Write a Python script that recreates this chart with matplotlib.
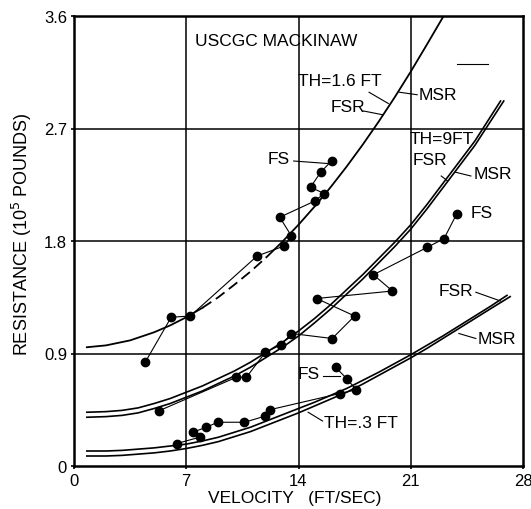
import numpy as np
import matplotlib.pyplot as plt

plt.rcParams["font.family"] = ["Liberation Sans", "DejaVu Sans"]

# TH = 1.6 FT resistance curve (FSR and MSR practically coincide)
th16_x = [0.8, 2, 3.5, 5, 6, 7, 8, 9, 10, 11, 12, 13, 14, 15, 16, 17, 18, 19, 20, 21, 22, 23.05]
th16_y = [0.95, 0.965, 1.005, 1.07, 1.125, 1.19, 1.265, 1.35, 1.45, 1.555, 1.67, 1.795,
          1.93, 2.075, 2.23, 2.395, 2.57, 2.755, 2.95, 3.155, 3.37, 3.60]

# TH = .9 FT curves
th09_fsr_x = [0.8, 2, 3, 4, 5, 6, 7, 8, 9, 10, 11, 12, 13, 14, 15, 16, 17, 18, 19, 20,
              21, 22, 23, 24, 25, 26.6]
th09_fsr_y = [0.43, 0.435, 0.445, 0.465, 0.50, 0.54, 0.59, 0.64, 0.70, 0.76, 0.83, 0.91,
              0.99, 1.08, 1.18, 1.29, 1.41, 1.53, 1.66, 1.79, 1.93, 2.09, 2.26, 2.43, 2.60, 2.92]
th09_msr_x = [0.8, 2, 3, 4, 5, 6, 7, 8, 9, 10, 11, 12, 13, 14, 15, 16, 17, 18, 19, 20,
              21, 22, 23, 24, 25, 26.8]
th09_msr_y = [0.39, 0.395, 0.405, 0.425, 0.46, 0.50, 0.55, 0.60, 0.66, 0.72, 0.79, 0.87,
              0.95, 1.04, 1.145, 1.255, 1.375, 1.495, 1.625, 1.755, 1.895, 2.055, 2.225,
              2.395, 2.565, 2.92]

# TH = .3 FT curves
th03_fsr_x = [0.8, 2, 3, 4, 5, 6, 7, 8, 9, 10, 11, 12, 13, 14, 15, 16, 17, 18, 19, 20,
              21, 22, 23, 24, 25, 26, 27.0]
th03_fsr_y = [0.12, 0.12, 0.125, 0.135, 0.145, 0.16, 0.175, 0.20, 0.23, 0.27, 0.31, 0.36,
              0.41, 0.46, 0.51, 0.565, 0.62, 0.685, 0.75, 0.82, 0.89, 0.965, 1.04, 1.12,
              1.20, 1.28, 1.365]
th03_msr_x = [0.8, 2, 3, 4, 5, 6, 7, 8, 9, 10, 11, 12, 13, 14, 15, 16, 17, 18, 19, 20,
              21, 22, 23, 24, 25, 26, 27.2]
th03_msr_y = [0.08, 0.08, 0.085, 0.095, 0.105, 0.12, 0.14, 0.165, 0.195, 0.235, 0.275,
              0.325, 0.375, 0.425, 0.48, 0.535, 0.59, 0.655, 0.725, 0.795, 0.865, 0.94,
              1.02, 1.10, 1.18, 1.26, 1.355]

# full scale (FS) measurements
fs16_x = [4.44, 6.06, 7.25, 11.42, 13.1, 13.56, 12.83, 15.02, 15.6, 14.75, 15.38, 16.06]
fs16_y = [0.83, 1.19, 1.20, 1.68, 1.76, 1.84, 1.99, 2.12, 2.18, 2.23, 2.35, 2.44]

fs09_x = [5.27, 10.13, 10.75, 11.94, 12.92, 13.56, 16.1, 17.5, 15.13, 19.86, 18.67, 22.04, 23.08, 23.88]
fs09_y = [0.44, 0.71, 0.71, 0.91, 0.97, 1.06, 1.02, 1.20, 1.34, 1.40, 1.53, 1.75, 1.82, 2.02]

fs03_x = [6.42, 7.83, 7.4, 8.25, 8.96, 10.63, 11.94, 12.21, 16.58, 17.6, 17.0, 16.31]
fs03_y = [0.18, 0.23, 0.27, 0.31, 0.35, 0.35, 0.40, 0.45, 0.58, 0.61, 0.70, 0.79]

x_ticks = [0, 7, 14, 21, 28]
y_ticks = [0, 0.9, 1.8, 2.7, 3.6]
y_tick_labels = ["0", "0.9", "1.8", "2.7", "3.6"]


def main():
    fig = plt.figure(figsize=(5.31, 5.10), dpi=100)
    ax = fig.add_axes([74 / 531, 1 - 467 / 510, 449 / 531, 450 / 510])

    ax.set_xlim(0, 28)
    ax.set_ylim(0, 3.6)
    for v in x_ticks[1:-1]:
        ax.axvline(v, color="black", lw=1.1, zorder=1)
    for v in y_ticks[1:-1]:
        ax.axhline(v, color="black", lw=1.1, zorder=1)
    for s in ax.spines.values():
        s.set_linewidth(1.8)

    ax.set_xticks(x_ticks)
    ax.set_yticks(y_ticks)
    ax.set_yticklabels(y_tick_labels)
    ax.tick_params(length=2, width=1.2, labelsize=12, pad=3)

    # curves, TH=1.6 FT has a dashed stretch
    ax.plot(th16_x[:7], th16_y[:7], color="black", lw=1.3)
    ax.plot(th16_x[6:11], th16_y[6:11], color="black", lw=1.3, ls=(0, (6, 3)))
    ax.plot(th16_x[10:], th16_y[10:], color="black", lw=1.3)
    ax.plot(th09_fsr_x, th09_fsr_y, color="black", lw=1.2)
    ax.plot(th09_msr_x, th09_msr_y, color="black", lw=1.2)
    ax.plot(th03_fsr_x, th03_fsr_y, color="black", lw=1.2)
    ax.plot(th03_msr_x, th03_msr_y, color="black", lw=1.2)

    # full scale data
    for xs, ys in [(fs16_x, fs16_y), (fs09_x, fs09_y), (fs03_x, fs03_y)]:
        ax.plot(xs, ys, color="black", lw=0.8, marker="o", ms=6)

    txt = dict(fontsize=12.5, color="black", va="center", ha="left")
    ax.text(7.56, 3.40, "USCGC MACKINAW", **txt)
    ax.text(14.0, 3.08, "TH=1.6 FT", **txt)
    ax.text(16.0, 2.88, "FSR", **txt)
    ax.text(21.5, 2.97, "MSR", **txt)
    ax.text(12.1, 2.46, "FS", **txt)
    ax.text(20.9, 2.62, "TH=9FT", **txt)
    ax.text(21.1, 2.45, "FSR", **txt)
    ax.text(24.9, 2.34, "MSR", **txt)
    ax.text(24.75, 2.03, "FS", **txt)
    ax.text(13.94, 0.74, "FS", **txt)
    ax.text(15.56, 0.35, "TH=.3 FT", **txt)
    ax.text(22.75, 1.40, "FSR", **txt)
    ax.text(25.2, 1.02, "MSR", **txt)

    # leader lines
    leaders = [
        ((18.06, 2.84), (19.25, 2.81)),
        ((18.4, 2.99), (19.6, 2.90)),
        ((20.3, 2.99), (21.4, 2.97)),
        ((13.7, 2.44), (15.8, 2.42)),
        ((22.9, 2.32), (23.3, 2.28)),
        ((23.8, 2.35), (24.75, 2.32)),
        ((15.5, 0.72), (16.6, 0.72)),
        ((14.6, 0.43), (15.5, 0.36)),
        ((25.06, 1.39), (26.6, 1.32)),
        ((24.0, 1.06), (25.06, 1.02)),
    ]
    for (x0, y0), (x1, y1) in leaders:
        ax.plot([x0, x1], [y0, y1], color="black", lw=0.8)
    ax.plot([23.9, 25.8], [3.22, 3.22], color="black", lw=0.8)

    fig.text(295 / 531, 1 - 499 / 510, "VELOCITY   (FT/SEC)", fontsize=12.5,
             ha="center", va="center")
    fig.text(22 / 531, 1 - 234 / 510, "RESISTANCE (10$^5$ POUNDS)", fontsize=13,
             ha="center", va="center", rotation=90)

    fig.savefig("out.png", dpi=100)


if __name__ == "__main__":
    main()
